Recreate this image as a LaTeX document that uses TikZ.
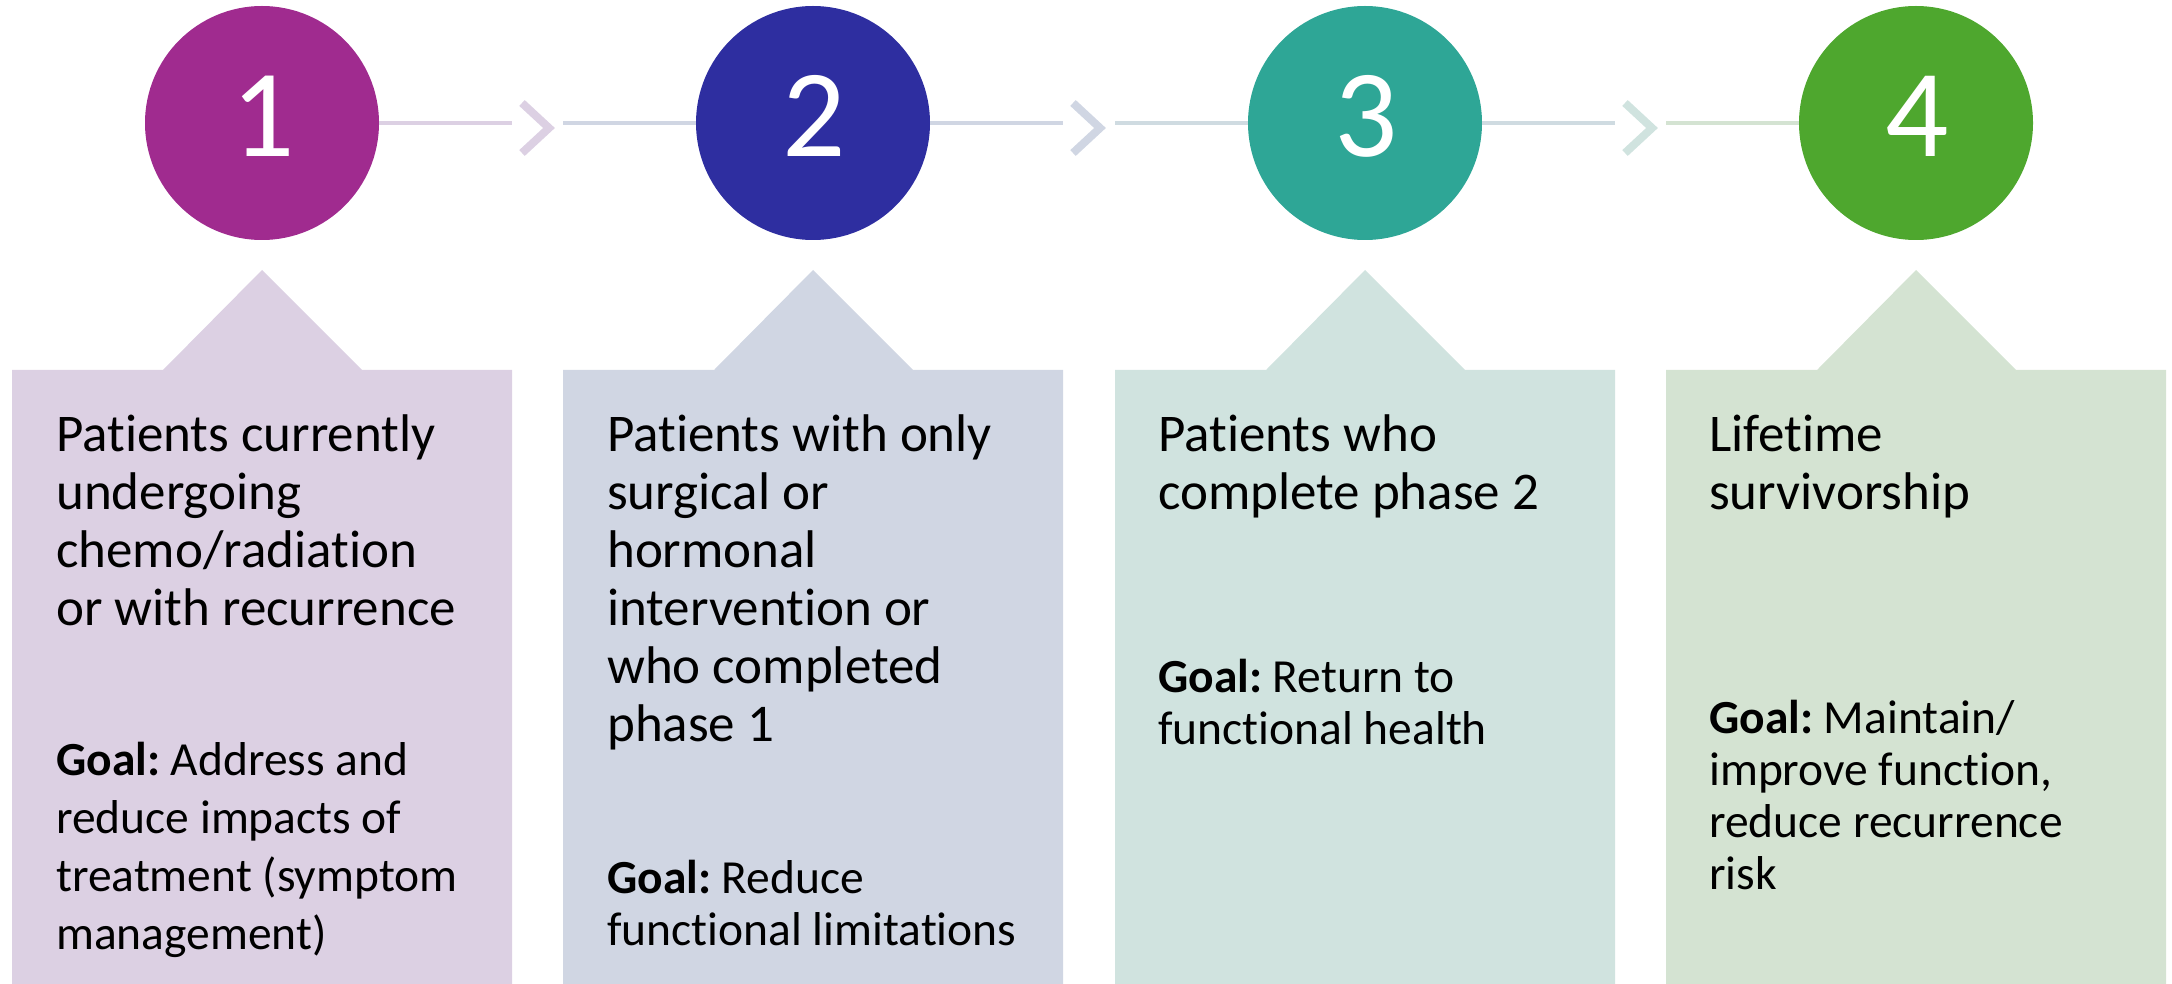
\documentclass[tikz,border=0pt]{standalone}
\usepackage{fontspec}
\setmainfont{Carlito}[RawFeature=-liga]
\frenchspacing
\definecolor{cA}{HTML}{A02B8F}
\definecolor{cB}{HTML}{2E2EA0}
\definecolor{cC}{HTML}{2EA696}
\definecolor{cD}{HTML}{4EA72E}
\definecolor{bA}{HTML}{DCD0E3}
\definecolor{bB}{HTML}{D0D6E3}
\definecolor{bC}{HTML}{D0E3DF}
\definecolor{bD}{HTML}{D4E3D2}
\definecolor{lC}{HTML}{CFDBE1}
\tikzset{
  phase/.style={circle, inner sep=0pt, minimum size=234pt},
  digit/.style={anchor=base, inner sep=0pt, text=white, font=\fontsize{125}{125}\selectfont},
  body/.style={anchor=base west, inner sep=0pt, align=left},
  head/.style={body, font=\fontsize{53}{58}\selectfont},
  goalA/.style={body, font=\fontsize{47.5}{58}\selectfont},
  goalB/.style={body, font=\fontsize{47.5}{52}\selectfont},
  conn/.style={line width=4pt},
  chev/.style={line width=8pt, miter limit=10}
}
\begin{document}
\begin{tikzpicture}[x=1pt,y=-1pt]
\useasboundingbox (0,0) rectangle (2172,984);
% boxes with pointer
\foreach \L/\col in {12/bA, 563/bB, 1115/bC, 1666/bD}{
  \fill[\col] (\L,984) -- (\L,370) -- ({\L+151},370) -- ({\L+250},270) -- ({\L+350},370) -- ({\L+500},370) -- ({\L+500},984) -- cycle;
}
% circles
\node[phase, fill=cA] (p1) at (262,123) {};
\node[phase, fill=cB] (p2) at (813,123) {};
\node[phase, fill=cC] (p3) at (1365,123) {};
\node[phase, fill=cD] (p4) at (1916,123) {};
\node[digit] (d1) at (263,157) {1};
\node[digit] (d2) at (814,157) {2};
\node[digit] (d3) at (1366,157) {3};
\node[digit] (d4) at (1917,157) {4};
% connector coordinates
\coordinate (r1) at (512,123);
\coordinate (l2) at (563,123);
\coordinate (r2) at (1063,123);
\coordinate (l3) at (1115,123);
\coordinate (r3) at (1615,123);
\coordinate (l4) at (1666,123);
\draw[conn, bA] (p1.east) -- (r1);
\draw[conn, bB] (l2) -- (p2.west);
\draw[conn, bB] (p2.east) -- (r2);
\draw[conn, lC] (l3) -- (p3.west);
\draw[conn, lC] (p3.east) -- (r3);
\draw[conn, bD] (l4) -- (p4.west);
% chevrons
\draw[chev, bA] (522,103) -- (549,128) -- (522,153);
\draw[chev, bB] (1073,103) -- (1100,128) -- (1073,153);
\draw[chev, bC] (1625,103) -- (1652,128) -- (1625,153);
% texts (anchored at the baseline of the last line)
\node[head] (t1) at (56,625) {Patients currently\\undergoing\\chemo/radiation\\or with recurrence};
\node[goalA] (g1) at (56,949) {\textbf{Goal:} Address and\\reduce impacts of\\treatment (symptom\\management)};
\node[head] (t2) at (607,741) {Patients with only\\surgical or\\hormonal\\intervention or\\who completed\\phase 1};
\node[goalB] (g2) at (607,945) {\textbf{Goal:} Reduce\\functional limitations};
\node[head] (t3) at (1158,509) {Patients who\\complete phase 2};
\node[goalB] (g3) at (1158,744) {\textbf{Goal:} Return to\\functional health};
\node[head] (t4) at (1709,509) {Lifetime\\survivorship};
\node[goalB] (g4) at (1709,889) {\textbf{Goal:} Maintain/\\improve function,\\reduce recurrence\\risk};
\end{tikzpicture}
\end{document}
